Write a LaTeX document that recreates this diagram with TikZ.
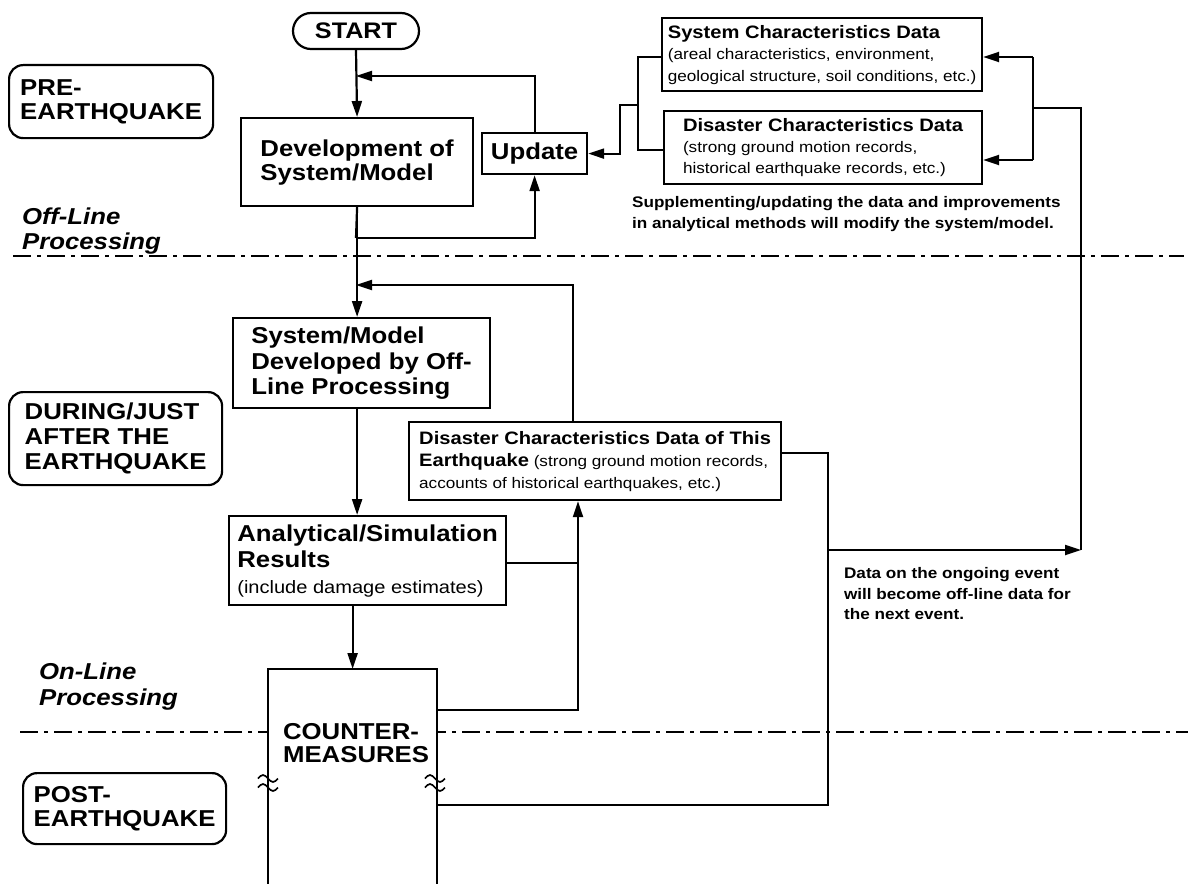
\documentclass[tikz,border=0pt]{standalone}
\usepackage{fontspec}
\setmainfont{Liberation Sans}[FakeStretch=1.12]
\usetikzlibrary{arrows.meta}
\newcommand\fsBig{\fontsize{23}{24}\selectfont\bfseries}
\newcommand\fsMid{\fontsize{18}{21.5}\selectfont\bfseries}
\newcommand\fsReg{\fontsize{15.3}{21}\selectfont}
\newcommand\fsNote{\fontsize{15.3}{21.5}\selectfont\bfseries}
\begin{document}
\begin{tikzpicture}[x=1pt,y=-1pt, line width=2.2pt,
  arr/.style={-{Triangle[length=16pt,width=10pt]}},
  box/.style={draw, fill=white, anchor=north west, inner sep=0pt, align=left},
  lbl/.style={draw, rounded corners=14pt, anchor=north west, inner sep=0pt, align=left, font=\fsBig},
  plain/.style={anchor=west, inner sep=0pt, align=left},
  dashline/.style={dash pattern=on 18pt off 6pt on 4pt off 6pt, line width=2pt}]
\useasboundingbox (0,0) rectangle (1188,883);
% phase separators
\coordinate (da) at (13,256); \coordinate (db) at (1184,256);
\coordinate (dc) at (20,732); \coordinate (dd) at (1188,732);
\draw[dashline] (da) -- (db);
\draw[dashline] (dc) -- (dd);
% phase labels
\node[lbl, minimum width=204pt, minimum height=73pt] (pre) at (8,64) {PRE-\\EARTHQUAKE};
\node[lbl, minimum width=213pt, minimum height=93pt, font=\fontsize{23}{25}\selectfont\bfseries] (during) at (8,391) {DURING/JUST\\AFTER THE\\EARTHQUAKE};
\node[lbl, minimum width=203pt, minimum height=71pt] (post) at (22,772) {POST-\\EARTHQUAKE};
\node[plain, font=\fontsize{23}{25}\selectfont\bfseries\itshape] (offl) at (21,231) {Off-Line\\Processing};
\node[plain, font=\fontsize{23}{26}\selectfont\bfseries\itshape] (onl) at (38,687) {On-Line\\Processing};
% main boxes
\node[draw, rounded corners=18pt, minimum width=126pt, minimum height=36pt, inner sep=0pt, font=\fontsize{22.5}{24}\selectfont\bfseries] (start) at (356,31) {START};
\node[box, minimum width=232pt, minimum height=88pt, font=\fsBig] (dev) at (240,117) {Development of\\System/Model};
\node[box, minimum width=105pt, minimum height=41pt, align=center, font=\fsBig] (upd) at (481,132) {Update};
\node[box, minimum width=320pt, minimum height=73pt, font=\fontsize{15.3}{21.5}\selectfont] (sysd) at (661,17) {{\fsMid System Characteristics Data}\\(areal characteristics, environment,\\geological structure, soil conditions, etc.)};
\node[box, minimum width=318pt, minimum height=73pt, font=\fsReg] (disd) at (663,110) {{\fsMid Disaster Characteristics Data}\\(strong ground motion records,\\historical earthquake records, etc.)};
\node[plain, font=\fsNote] (note) at (631,214) {Supplementing/updating the data and improvements\\in analytical methods will modify the system/model.};
\node[box, minimum width=257pt, minimum height=90pt, font=\fontsize{23}{25.5}\selectfont\bfseries] (sm) at (232,317) {System/Model\\Developed by Off-\\Line Processing};
\node[box, minimum width=372pt, minimum height=78pt, font=\fontsize{15.3}{22}\selectfont] (dthis) at (408,421) {{\fsMid Disaster Characteristics Data of This}\\{\fsMid Earthquake} (strong ground motion records,\\accounts of historical earthquakes, etc.)};
\node[box, minimum width=277pt, minimum height=89pt, font=\fontsize{23}{26}\selectfont\bfseries] (anal) at (228,515) {Analytical/Simulation\\Results\\{\mdseries\fontsize{17.9}{26}\selectfont (include damage estimates)}};
\node[fill=white, anchor=north west, minimum width=167pt, minimum height=214pt, inner sep=0pt] (cm) at (268,669) {};
\draw (cm.south west) -- (cm.north west) -- (cm.north east) -- (cm.south east);
\node[plain, font=\fontsize{23}{23}\selectfont\bfseries] (cmtext) at (282,743) {COUNTER-\\MEASURES};
\node[plain, font=\fontsize{15.3}{20.5}\selectfont\bfseries] (datanote) at (843,594) {Data on the ongoing event\\will become off-line data for\\the next event.};
% coordinates of bends
\coordinate (j1) at (356,76);
\coordinate (j2) at (356,238);
\coordinate (j3) at (356,285);
\coordinate (c1) at (638,57);
\coordinate (c2) at (638,150);
\coordinate (c3) at (638,105);
\coordinate (c4) at (620,105);
\coordinate (b1) at (1033,108);
\coordinate (b2) at (1033,57);
\coordinate (b3) at (1033,160);
\coordinate (n2) at (1081,108);
\coordinate (n1) at (1081,550);
\coordinate (m3) at (828,550);
\coordinate (m1) at (828,453);
\coordinate (m2) at (828,805);
\coordinate (d2top) at (573,421);
\coordinate (k1) at (578,563);
\coordinate (k2) at (578,710);
% connectors
\draw[arr] (start.south) -- (dev.north);
\draw[arr] (upd.north) |- (j1);
\draw (dev.south) -- (j2);
\draw[arr] (j2) -| (upd.south);
\draw[arr] (dev.south) -- (dev.south |- sm.north);
\draw (sysd.west |- c1) -- (c1) -- (c2) -- (c2 -| disd.west);
\draw[arr] (c3) -- (c4) |- (upd.east);
\draw (b2) -- (b3);
\draw[arr] (b2) -- (b2 -| sysd.east);
\draw[arr] (b3) -- (b3 -| disd.east);
\draw (b1) -- (n2) -- (n1);
\draw[arr] (m3) -- (n1);
\draw[arr] (d2top) |- (j3);
\draw[arr] (sm.south -| dev.south) -- (anal.north -| dev.south);
\draw[arr] (cm.north |- anal.south) -- (cm.north);
\draw (anal.east |- k1) -- (k1);
\draw[arr] (cm.east |- k2) -- (k2) -- (k2 |- dthis.south);
\draw (dthis.east |- m1) -- (m1) -- (m2) -- (cm.east |- m2);
% break marks on the countermeasures box
\foreach \xx in {268,435} {
  \foreach \dy in {-4.5,4.5} {
    \draw[line width=1.7pt] ({\xx-10},{783+\dy}) sin ({\xx-5},{779.5+\dy}) cos ({\xx},{783+\dy}) sin ({\xx+5},{786.5+\dy}) cos ({\xx+10},{783+\dy});
  }
}
\end{tikzpicture}
\end{document}
